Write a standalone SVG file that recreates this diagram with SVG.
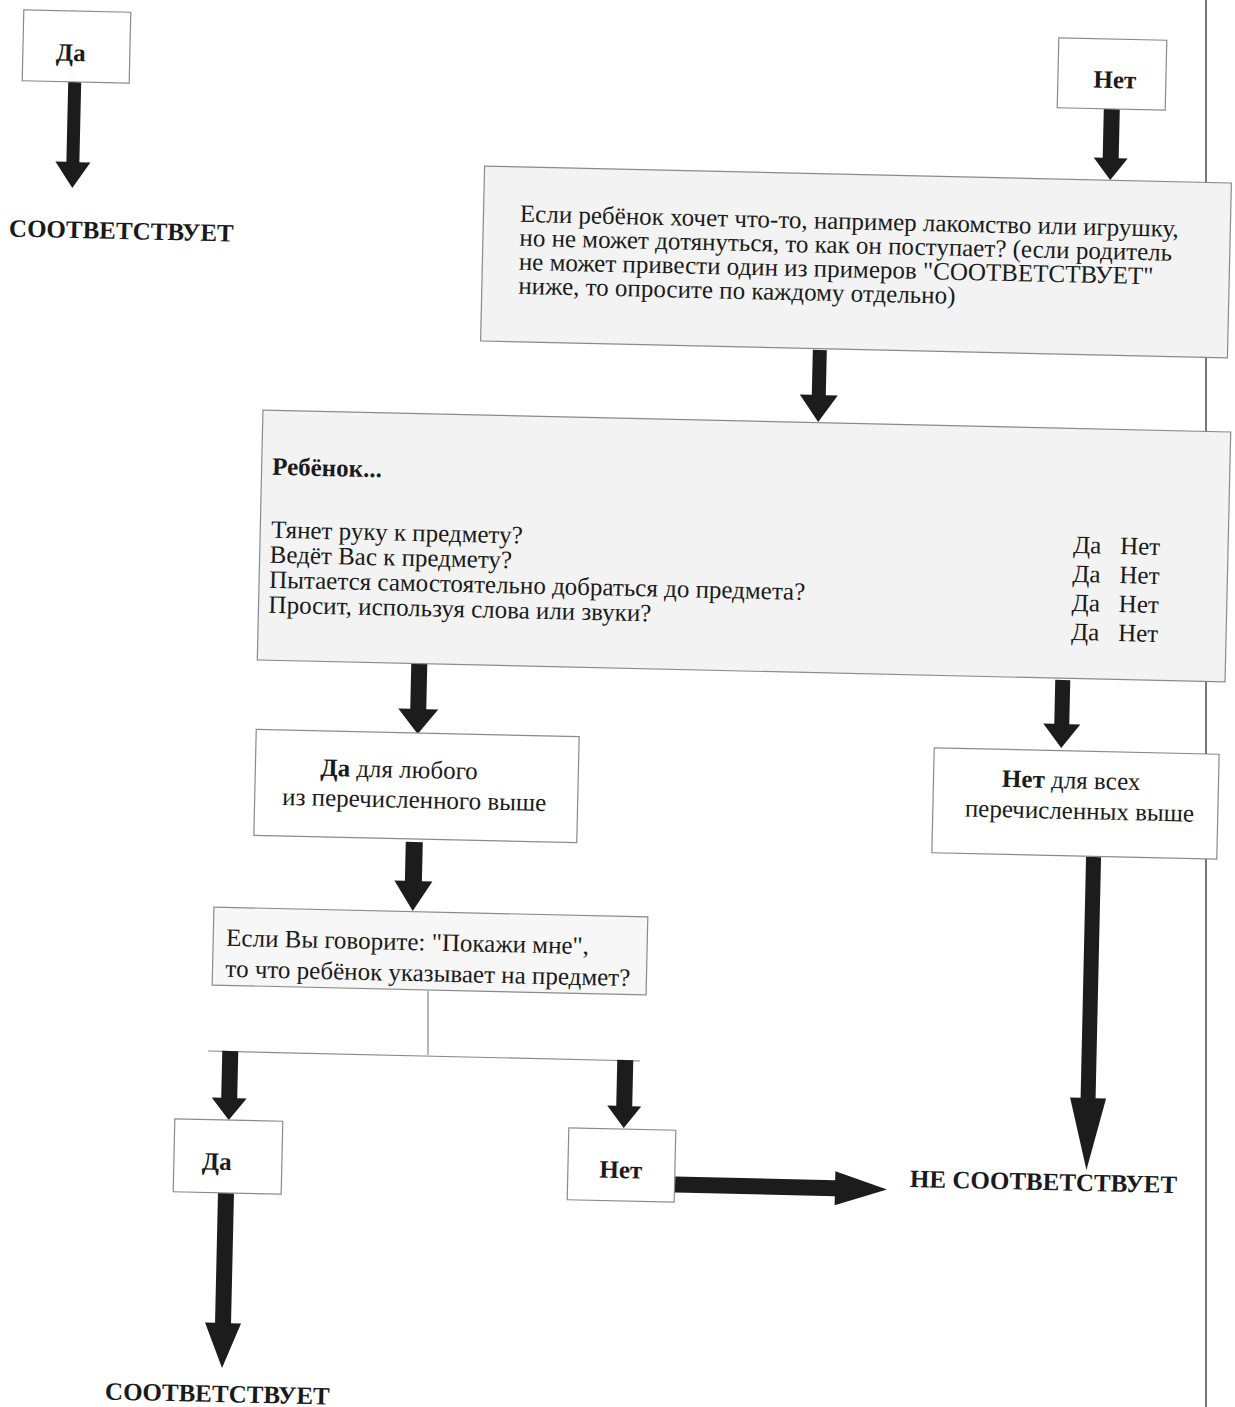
<svg xmlns="http://www.w3.org/2000/svg" width="1235" height="1407" viewBox="0 0 1235 1407">
<style>
text { font-family: "Liberation Serif", "Times New Roman", serif; fill: #1a1a1a; font-size: 25px; }
.b { font-weight: bold; }
.m { text-anchor: middle; }
.box { fill: #ffffff; stroke: #8a8a8a; stroke-width: 1.2; }
.gray { fill: #f3f3f3; }
.light { fill: #f7f7f7; }
.arrow { fill: #1c1c1c; }
.thin { stroke: #8a8a8a; stroke-width: 1.2; fill: none; }
.edge { stroke: #4a4a4a; stroke-width: 1.5; }
</style>
<rect width="1235" height="1407" fill="#ffffff"/>
<line class="edge" x1="1206" y1="0" x2="1206" y2="1407"/>

<g id="connectors">
  <path class="arrow" transform="rotate(1.3 73.5 135)" d="M67,82 H80 V162 H91 L73.5,188 L56,162 H67 Z"/>
  <path class="arrow" transform="rotate(1.3 1111 144.5)" d="M1103,109 H1119 V158 H1128 L1111,180 L1094,158 H1103 Z"/>
  <path class="arrow" transform="rotate(1.3 819 386)" d="M812,350 H826 V395 H838 L819,422 L800,395 H812 Z"/>
  <path class="arrow" transform="rotate(1.3 418.5 698)" d="M410.5,662 H426.5 V709 H438.5 L418.5,734 L398.5,709 H410.5 Z"/>
  <path class="arrow" transform="rotate(1.3 1062 714)" d="M1054.5,680 H1069.5 V724 H1080.5 L1062,748 L1043.5,724 H1054.5 Z"/>
  <path class="arrow" transform="rotate(1.3 413.5 876.5)" d="M405,842 H422 V881 H432.5 L413.5,911 L394.5,881 H405 Z"/>
  <line class="thin" x1="428" y1="991" x2="428" y2="1055"/>
  <line class="thin" x1="208" y1="1051" x2="640" y2="1061"/>
  <path class="arrow" transform="rotate(1.3 229.5 1085.5)" d="M221.5,1051 H237.5 V1098 H247 L229.5,1120 L212,1098 H221.5 Z"/>
  <path class="arrow" transform="rotate(1.3 624.5 1094)" d="M616.5,1060 H632.5 V1106 H641.5 L624.5,1128 L607.5,1106 H616.5 Z"/>
  <path class="arrow" transform="rotate(1.3 224 1280.5)" d="M216,1193 H232 V1323 H242 L224,1368 L206,1323 H216 Z"/>
  <path class="arrow" transform="rotate(1.3 1090 1013.5)" d="M1082.5,857 H1097.5 V1098 H1108 L1090,1170 L1072,1098 H1082.5 Z"/>
  <path class="arrow" transform="rotate(1.3 781 1187)" d="M675,1179 H835 V1170 L887,1187 L835,1204 V1195 H675 Z"/>
</g>

<g id="yes-top" transform="rotate(1.3 76.5 46.5)">
  <rect class="box" x="23" y="11" width="107" height="71"/>
  <text class="b m" x="71" y="61">Да</text>
</g>

<g id="match-top" transform="rotate(1.3 121 231)">
  <text class="b" x="9" y="239">СООТВЕТСТВУЕТ</text>
</g>

<g id="no-top" transform="rotate(1.3 1112 74)">
  <rect class="box" x="1058" y="39" width="108" height="70"/>
  <text class="b m" x="1115" y="88">Нет</text>
</g>

<g id="question-reach" transform="rotate(1.3 856 262)">
  <rect class="box gray" x="482.5" y="174.5" width="747" height="175"/>
  <text x="519" y="229.5">Если ребёнок хочет что-то, например лакомство или игрушку,</text>
  <text x="519" y="253.5">но не может дотянуться, то как он поступает? (если родитель</text>
  <text x="519" y="277.5">не может привести один из примеров "СООТВЕТСТВУЕТ"</text>
  <text x="519" y="301.5">ниже, то опросите по каждому отдельно)</text>
</g>

<g id="checklist" transform="rotate(1.3 744 546)">
  <rect class="box gray" x="260" y="421" width="968" height="250"/>
  <text class="b" x="270.5" y="485.5">Ребёнок...</text>
  <text x="271" y="548.5">Тянет руку к предмету?</text>
  <text x="270" y="573.5">Ведёт Вас к предмету?</text>
  <text x="270" y="598.5">Пытается самостоятельно добраться до предмета?</text>
  <text x="270" y="623.5">Просит, используя слова или звуки?</text>
  <text x="1073" y="545.5">Да</text><text x="1120" y="545.5">Нет</text>
  <text x="1073" y="574.5">Да</text><text x="1120" y="574.5">Нет</text>
  <text x="1073" y="603.5">Да</text><text x="1120" y="603.5">Нет</text>
  <text x="1073" y="632.5">Да</text><text x="1120" y="632.5">Нет</text>
</g>

<g id="yes-any" transform="rotate(1.3 416.5 786)">
  <rect class="box" x="255" y="733" width="323" height="106"/>
  <text x="320" y="778"><tspan class="b">Да</tspan> для любого</text>
  <text x="282.5" y="808">из перечисленного выше</text>
</g>

<g id="no-all" transform="rotate(1.3 1075.5 803.5)">
  <rect class="box" x="933" y="751" width="285" height="105"/>
  <text x="1001.5" y="788.5"><tspan class="b">Нет</tspan> для всех</text>
  <text x="965" y="819">перечисленных выше</text>
</g>

<g id="question-show" transform="rotate(1.3 430 951)">
  <rect class="box light" x="213" y="912" width="434" height="78"/>
  <text x="226" y="950.5">Если Вы говорите: "Покажи мне",</text>
  <text x="226" y="981.5">то что ребёнок указывает на предмет?</text>
</g>

<g id="yes-bottom" transform="rotate(1.3 228 1156.5)">
  <rect class="box" x="174" y="1120" width="108" height="73"/>
  <text class="b m" x="217" y="1170">Да</text>
</g>

<g id="no-bottom" transform="rotate(1.3 621.5 1165)">
  <rect class="box" x="568" y="1129" width="107" height="72"/>
  <text class="b m" x="621" y="1178">Нет</text>
</g>

<g id="not-match" transform="rotate(1.3 1042 1182)">
  <text class="b" x="910" y="1190">НЕ СООТВЕТСТВУЕТ</text>
</g>

<g id="match-bottom" transform="rotate(1.3 216 1394)">
  <text class="b" x="105" y="1402">СООТВЕТСТВУЕТ</text>
</g>
</svg>
